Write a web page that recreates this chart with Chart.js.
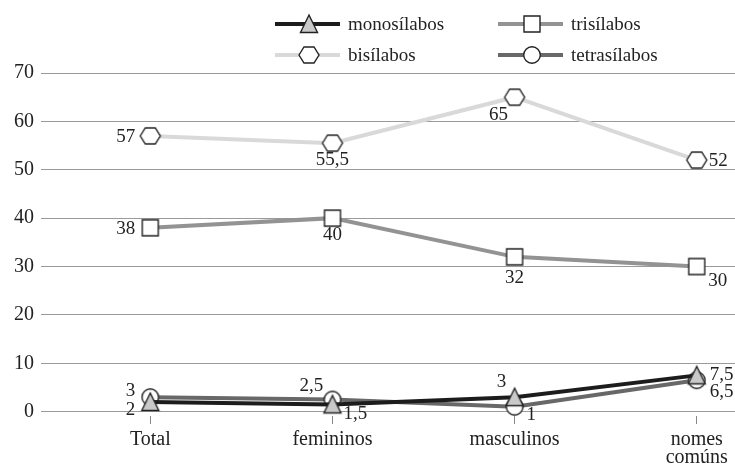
<!DOCTYPE html>
<html>
<head>
<meta charset="utf-8">
<script src="https://cdn.jsdelivr.net/npm/chart.js@4/dist/chart.umd.min.js"></script>
<style>
  html, body { margin: 0; padding: 0; background: #fff; }
  #wrap { width: 735px; height: 467px; position: relative; }
</style>
</head>
<body>
<div id="wrap"><canvas id="chart" width="735" height="467"></canvas></div>
<script>
// data
const categories = ['Total', 'femininos', 'masculinos', ['nomes', 'comúns']];
const monosilabos = [2, 1.5, 3, 7.5];
const trisilabos = [38, 40, 32, 30];
const bisilabos = [57, 55.5, 65, 52];
const tetrasilabos = [3, 2.5, 1, 6.5];
const yTicks = [0, 10, 20, 30, 40, 50, 60, 70];

const SERIF = '"Liberation Serif", "DejaVu Serif", serif';
const INK = '#222';

// markers drawn on small canvases, used as pointStyle and in the legend
function marker(kind, fill) {
    const c = document.createElement('canvas');
    const w = kind === 'hex' ? 24 : 22, h = 22;
    c.width = w; c.height = h;
    const g = c.getContext('2d');
    g.fillStyle = fill;
    g.strokeStyle = INK;
    g.lineWidth = 1.4;
    g.beginPath();
    if (kind === 'tri') {
        g.moveTo(11, 2); g.lineTo(19.5, 19.5); g.lineTo(2.5, 19.5); g.closePath();
    } else if (kind === 'sq') {
        g.rect(3, 3, 16, 16);
    } else if (kind === 'hex') {
        g.moveTo(2, 11); g.lineTo(7, 3); g.lineTo(17, 3); g.lineTo(22, 11);
        g.lineTo(17, 19); g.lineTo(7, 19); g.closePath();
    } else {
        g.arc(11, 11, 8.3, 0, Math.PI * 2);
    }
    g.fill();
    g.stroke();
    return c;
}

function pts(arr) {
    return arr.map((v, i) => ({ x: i, y: v }));
}

// label placement per point: [dx, dy, align]
const datasets = [
    { label: 'monosílabos', data: pts(monosilabos), borderColor: '#1c1c1c',
      pointStyle: marker('tri', '#c9c9c9'),
      lbl: [[-15, 8, 'right'], [11, 10, 'left'], [-13, -15, 'center'], [13, 0, 'left']] },
    { label: 'trisílabos', data: pts(trisilabos), borderColor: '#939393',
      pointStyle: marker('sq', '#fff'),
      lbl: [[-15, 1, 'right'], [0, 17, 'center'], [0, 21, 'center'], [21, 15, 'center']] },
    { label: 'bisílabos', data: pts(bisilabos), borderColor: '#d9d9d9',
      pointStyle: marker('hex', '#fff'),
      lbl: [[-15, 1, 'right'], [0, 17, 'center'], [-16, 18, 'center'], [12, 1, 'left']] },
    { label: 'tetrasílabos', data: pts(tetrasilabos), borderColor: '#686868',
      pointStyle: marker('circ', '#fff'),
      lbl: [[-15, -6, 'right'], [-21, -14, 'center'], [12, 8, 'left'], [13, 12, 'left']] }
];
datasets.forEach(d => {
    d.borderWidth = 4;
    d.tension = 0;
    d.fill = false;
});

const valueLabels = {
    id: 'valueLabels',
    afterDatasetsDraw(chart) {
        const ctx = chart.ctx;
        ctx.save();
        ctx.font = '19px ' + SERIF;
        ctx.fillStyle = INK;
        ctx.textBaseline = 'middle';
        chart.data.datasets.forEach((ds, di) => {
            chart.getDatasetMeta(di).data.forEach((p, i) => {
                const o = ds.lbl[i];
                ctx.textAlign = o[2];
                ctx.fillText(String(ds.data[i].y).replace('.', ','), p.x + o[0], p.y + o[1]);
            });
        });
        ctx.restore();
    }
};

// two-column legend at the top
const topLegend = {
    id: 'topLegend',
    afterDraw(chart) {
        const ctx = chart.ctx;
        const cols = [275, 498], rows = [24, 55];
        ctx.save();
        ctx.font = '19px ' + SERIF;
        ctx.fillStyle = INK;
        ctx.textBaseline = 'middle';
        ctx.textAlign = 'left';
        chart.data.datasets.forEach((ds, i) => {
            const x = cols[i % 2], y = rows[Math.floor(i / 2)];
            ctx.strokeStyle = ds.borderColor;
            ctx.lineWidth = 4;
            ctx.beginPath();
            ctx.moveTo(x, y); ctx.lineTo(x + 65, y);
            ctx.stroke();
            const m = ds.pointStyle;
            ctx.drawImage(m, x + 34 - m.width / 2, y - m.height / 2);
            ctx.fillText(ds.label, x + 73, y + 1);
        });
        ctx.restore();
    }
};

new Chart(document.getElementById('chart'), {
    type: 'line',
    data: { datasets: datasets },
    options: {
        responsive: false,
        animation: false,
        events: [],
        layout: { autoPadding: false, padding: { top: 73, right: 0, bottom: 0, left: 0 } },
        plugins: { legend: { display: false }, tooltip: { enabled: false } },
        scales: {
            x: {
                type: 'linear',
                min: -0.6,
                max: 3.21,
                afterBuildTicks: s => { s.ticks = categories.map((c, i) => ({ value: i })); },
                afterFit: s => { s.height = 51; s.paddingLeft = 0; s.paddingRight = 0; },
                border: { display: false },
                grid: { drawOnChartArea: false, drawTicks: true, tickLength: 8, color: '#888', lineWidth: 1 },
                ticks: {
                    padding: 7,
                    maxRotation: 0,
                    autoSkip: false,
                    color: INK,
                    font: { family: SERIF, size: 20, lineHeight: 0.88 },
                    callback: v => categories[v]
                }
            },
            y: {
                min: -0.9,
                max: 70,
                afterBuildTicks: s => { s.ticks = yTicks.map(v => ({ value: v })); },
                afterFit: s => { s.width = 41; },
                border: { display: false },
                grid: { drawTicks: false, color: '#9a9a9a', lineWidth: 1 },
                ticks: {
                    padding: 7,
                    color: INK,
                    font: { family: SERIF, size: 20 }
                }
            }
        }
    },
    plugins: [valueLabels, topLegend]
});
</script>
</body>
</html>
